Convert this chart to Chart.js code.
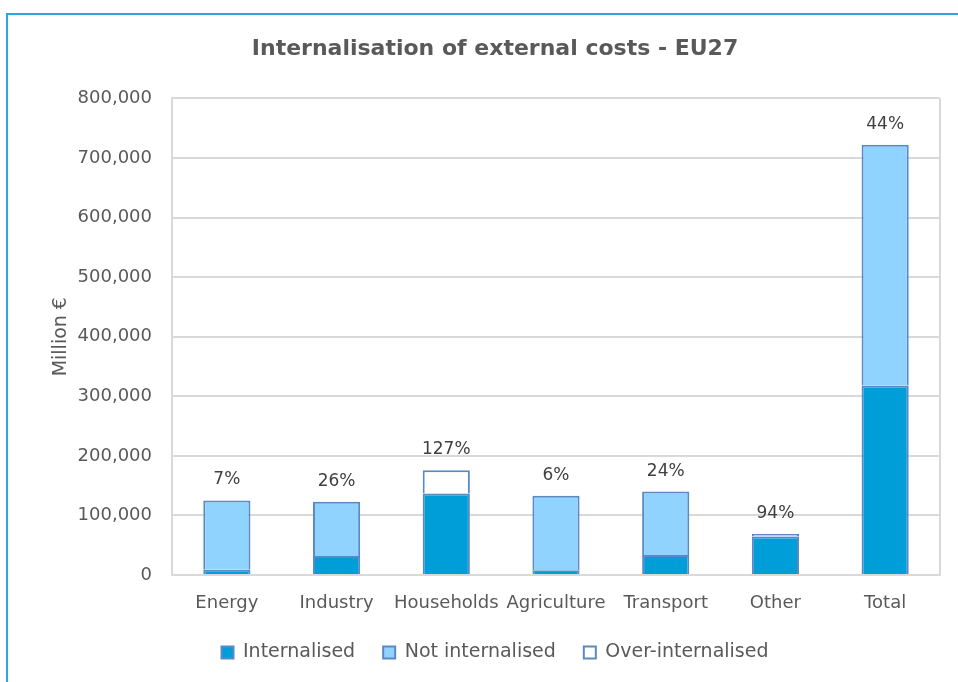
<!DOCTYPE html>
<html>
<head>
<meta charset="utf-8">
<script src="https://cdn.jsdelivr.net/npm/chart.js@4.4.0/dist/chart.umd.min.js"></script>
<style>
html,body{margin:0;padding:0;background:#fff;}
#frame{position:absolute;left:6px;top:13px;width:952px;height:669px;border-top:2px solid #2aa5dd;border-left:2px solid #2aa5dd;box-sizing:border-box;}
#wrap{position:absolute;left:0;top:0;width:958px;height:682px;}
</style>
</head>
<body>
<div id="frame"></div>
<div id="wrap"><canvas id="c" width="958" height="682"></canvas></div>
<script>
const categories = ["Energy","Industry","Households","Agriculture","Transport","Other","Total"];
const internalised = [8800, 32000, 137000, 8000, 33500, 64500, 318000];
const notInternalised = [116200, 91000, 0, 125000, 106500, 4500, 404000];
const overInternalised = [0, 0, 39000, 0, 0, 0, 0];
const percentLabels = ["7%","26%","127%","6%","24%","94%","44%"];
const yTicks = [0,100000,200000,300000,400000,500000,600000,700000,800000];

const FONT = "'DejaVu Sans', sans-serif";
const TXT = '#595959';
const BORDER = '#5a8ac6';

const pctPlugin = {
  id:'pct',
  afterDatasetsDraw(chart){
    const ctx = chart.ctx;
    const y = chart.scales.y, x = chart.scales.x;
    ctx.save();
    ctx.font = "17px " + FONT;
    ctx.fillStyle = '#404040';
    ctx.textAlign = 'center';
    ctx.textBaseline = 'bottom';
    categories.forEach((c,i)=>{
      const top = internalised[i] + notInternalised[i] + overInternalised[i];
      ctx.fillText(percentLabels[i], x.getPixelForValue(i), y.getPixelForValue(top) - 12);
    });
    ctx.restore();
  }
};

new Chart(document.getElementById('c'), {
  type:'bar',
  data:{
    labels: categories,
    datasets:[
      {label:'Internalised', data:internalised, backgroundColor:'#009ed8', borderColor:BORDER, borderWidth:2},
      {label:'Not internalised', data:notInternalised, backgroundColor:'#8fd3fe', borderColor:BORDER, borderWidth:2},
      {label:'Over-internalised', data:overInternalised, backgroundColor:'#ffffff', borderColor:BORDER, borderWidth:2}
    ]
  },
  options:{
    responsive:false,
    animation:false,
    datasets:{bar:{barPercentage:0.43, categoryPercentage:1}},
    layout:{padding:{left:50, right:18, top:10, bottom:10}},
    plugins:{
      title:{display:true, text:'Internalisation of external costs - EU27', color:TXT,
        font:{family:FONT, size:22, weight:'bold'}, padding:{top:26, bottom:36}},
      legend:{position:'bottom', labels:{color:TXT, font:{family:FONT, size:19},
        boxWidth:12, boxHeight:12, padding:28, useBorderRadius:false}},
      tooltip:{enabled:false}
    },
    scales:{
      x:{stacked:true, grid:{display:false}, border:{color:'#d9d9d9', width:2},
        afterFit(s){ s.height = 40; },
        ticks:{color:TXT, font:{family:FONT, size:18}, padding:10, maxRotation:0, autoSkip:false}},
      y:{stacked:true, min:0, max:800000,
        afterBuildTicks(s){ s.ticks = yTicks.map(v=>({value:v})); },
        afterFit(s){ s.width = 122; },
        grid:{color:'#d9d9d9', lineWidth:2, drawTicks:false},
        border:{color:'#d9d9d9', width:2},
        title:{display:true, text:'Million €', color:TXT, font:{family:FONT, size:19}, padding:0},
        ticks:{color:TXT, font:{family:FONT, size:18}, padding:20,
          callback:v=>v.toLocaleString('en-US')}}
    }
  },
  plugins:[pctPlugin, {
    id:'rightBorder',
    afterDraw(chart){
      const a = chart.chartArea, ctx = chart.ctx;
      ctx.save(); ctx.strokeStyle='#d9d9d9'; ctx.lineWidth=2;
      ctx.beginPath(); ctx.moveTo(a.right, a.top); ctx.lineTo(a.right, a.bottom); ctx.stroke();
      ctx.restore();
    }
  }]
});
</script>
</body>
</html>
